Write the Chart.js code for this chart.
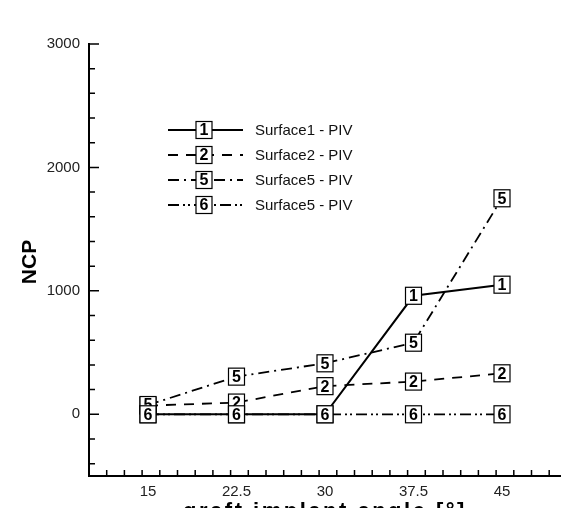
<!DOCTYPE html>
<html>
<head>
<meta charset="utf-8">
<script src="https://cdn.jsdelivr.net/npm/chart.js@4.4.1/dist/chart.umd.min.js"></script>
<style>
  html, body { margin: 0; padding: 0; background: #fff; }
  #wrap { width: 570px; height: 508px; }
</style>
</head>
<body>
<div id="wrap"><canvas id="chart"></canvas></div>
<script>
// values
const angles = [15, 22.5, 30, 37.5, 45];
const surface1 = [0, 0, 0, 960, 1050];
const surface2 = [70, 95, 228, 265, 332];
const surface5 = [75, 305, 413, 580, 1750];
const surface6 = [0, 0, 0, 0, 0];
const seriesLabels = ['Surface1 - PIV', 'Surface2 - PIV', 'Surface5 - PIV', 'Surface5 - PIV'];
const markerText = ['1', '2', '5', '6'];
const xTickValues = [15, 22.5, 30, 37.5, 45];
const yTickValues = [0, 1000, 2000, 3000];

const FONT = '"Liberation Sans", Arial, sans-serif';
const dashes = [[], [10, 8], [11, 5, 2, 5], [11, 4, 2, 3, 2, 4]];
const allSeries = [surface1, surface2, surface5, surface6];

function toPoints(vals) {
    return vals.map((v, i) => ({ x: angles[i], y: v }));
}

function drawMarker(ctx, x, y, txt) {
    const w = 16, h = 17;
    ctx.save();
    ctx.fillStyle = '#fff';
    ctx.fillRect(x - w / 2, y - h / 2, w, h);
    ctx.strokeStyle = '#000';
    ctx.lineWidth = 1.2;
    ctx.strokeRect(x - w / 2, y - h / 2, w, h);
    ctx.fillStyle = '#000';
    ctx.font = 'bold 16px ' + FONT;
    ctx.textAlign = 'center';
    ctx.textBaseline = 'middle';
    ctx.fillText(txt, x, y + 1);
    ctx.restore();
}

// axis lines + inward ticks (major/minor)
const axesPlugin = {
    id: 'axesTicks',
    afterDraw(chart) {
        const ctx = chart.ctx;
        const a = chart.chartArea;
        const xs = chart.scales.x, ys = chart.scales.y;
        ctx.save();
        ctx.strokeStyle = '#000';
        ctx.lineWidth = 2;
        ctx.beginPath();
        ctx.moveTo(a.left, a.top - 1);
        ctx.lineTo(a.left, a.bottom);
        ctx.lineTo(a.right, a.bottom);
        ctx.stroke();
        ctx.lineWidth = 1.5;
        ctx.beginPath();
        for (let v = 10; v <= 50.01; v += 1.5) {
            const px = xs.getPixelForValue(v);
            if (px > a.right) break;
            const major = xTickValues.some(t => Math.abs(t - v) < 0.01);
            ctx.moveTo(px, a.bottom);
            ctx.lineTo(px, a.bottom - (major ? 10 : 6));
        }
        for (let v = -400; v <= 3000; v += 200) {
            const py = ys.getPixelForValue(v);
            const major = v % 1000 === 0;
            ctx.moveTo(a.left, py);
            ctx.lineTo(a.left + (major ? 10 : 6), py);
        }
        ctx.stroke();

        // axis titles
        ctx.fillStyle = '#000';
        ctx.font = 'bold 22px ' + FONT;
        ctx.textAlign = 'center';
        ctx.textBaseline = 'top';
        ctx.letterSpacing = '2.5px';
        ctx.fillText('graft implant angle [\u00B0]', (a.left + a.right) / 2, 501);
        ctx.letterSpacing = '0px';
        ctx.font = 'bold 21px ' + FONT;
        ctx.translate(30, 262);
        ctx.rotate(-Math.PI / 2);
        ctx.textBaseline = 'middle';
        ctx.fillText('NCP', 0, 0);
        ctx.restore();
    }
};

// boxed number symbols on top of the lines
const markerPlugin = {
    id: 'boxMarkers',
    afterDatasetsDraw(chart) {
        const ctx = chart.ctx;
        chart.data.datasets.forEach((ds, di) => {
            chart.getDatasetMeta(di).data.forEach(pt => {
                drawMarker(ctx, pt.x, pt.y, markerText[di]);
            });
        });
    }
};

// legend drawn like the Tecplot one
const legendPlugin = {
    id: 'lineLegend',
    afterDraw(chart) {
        const ctx = chart.ctx;
        const x0 = 168, x1 = 243, rowY = [130, 155, 180, 205];
        chart.data.datasets.forEach((ds, i) => {
            const y = rowY[i];
            ctx.save();
            ctx.strokeStyle = '#000';
            ctx.lineWidth = i === 0 ? 2 : 1.8;
            ctx.setLineDash(dashes[i]);
            ctx.beginPath();
            ctx.moveTo(x0, y);
            ctx.lineTo(x1, y);
            ctx.stroke();
            ctx.restore();
            drawMarker(ctx, 204, y, markerText[i]);
            ctx.save();
            ctx.fillStyle = '#111';
            ctx.font = '15px ' + FONT;
            ctx.textBaseline = 'middle';
            ctx.fillText(ds.label, 255, y + 1);
            ctx.restore();
        });
    }
};

new Chart(document.getElementById('chart'), {
    type: 'line',
    data: {
        datasets: allSeries.map((vals, i) => ({
            label: seriesLabels[i],
            data: toPoints(vals),
            borderColor: '#000',
            borderWidth: i === 0 ? 2 : 1.8,
            borderDash: dashes[i],
            pointRadius: 0,
            fill: false,
            tension: 0
        }))
    },
    options: {
        responsive: true,
        maintainAspectRatio: false,
        animation: false,
        layout: { padding: { top: 44, right: 9, left: 0, bottom: 0 } },
        plugins: { legend: { display: false }, tooltip: { enabled: false } },
        scales: {
            x: {
                type: 'linear',
                min: 10, max: 50,
                grid: { display: false, drawTicks: false },
                border: { display: false },
                afterBuildTicks: s => { s.ticks = xTickValues.map(v => ({ value: v })); },
                afterFit: s => { s.height = 32; },
                ticks: { color: '#222', font: { family: FONT, size: 15 }, padding: 7, maxRotation: 0,
                         callback: v => String(v) }
            },
            y: {
                min: -500, max: 3000,
                grid: { display: false, drawTicks: false },
                border: { display: false },
                afterBuildTicks: s => { s.ticks = yTickValues.map(v => ({ value: v })); },
                afterFit: s => { s.width = 89; },
                ticks: { color: '#222', font: { family: FONT, size: 15 }, padding: 9,
                         callback: v => String(v) }
            }
        }
    },
    plugins: [axesPlugin, markerPlugin, legendPlugin]
});
</script>
</body>
</html>
